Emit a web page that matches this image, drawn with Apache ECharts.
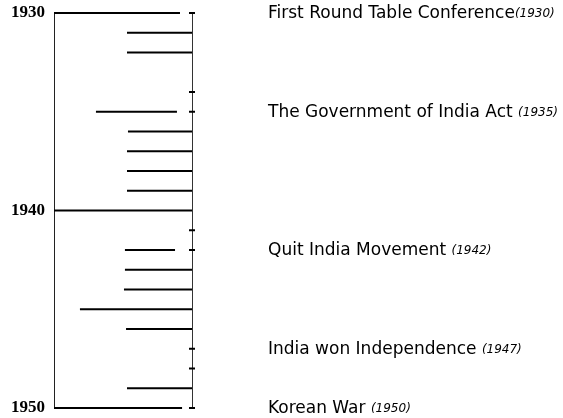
<!DOCTYPE html>
<html><head><meta charset="utf-8">
<script src="https://cdn.jsdelivr.net/npm/echarts@6/dist/echarts.min.js"></script>
<style>html,body{margin:0;padding:0;background:#fff}#c{width:563px;height:418px}</style>
</head><body><div id="c"></div>
<script>
// Axis tick labels (years)
const yearTicks = [1930, 1940, 1950];
// Horizontal timeline bars: year, start, end (0 = left axis, 100 = right axis)
const lineYears  = [1930, 1931, 1932, 1935, 1936, 1937, 1938, 1939, 1940, 1942, 1943, 1944, 1945, 1946, 1949, 1950];
const lineStarts = [0, 52.9, 52.9, 30.4, 53.6, 52.9, 52.9, 52.9, 0, 51.4, 51.4, 50.7, 18.8, 52.2, 52.9, 0];
const lineEnds   = [91.3, 100, 100, 89.1, 100, 100, 100, 100, 100, 87.7, 100, 100, 100, 100, 100, 92.8];
// Small tick marks on the right axis
const tickYears = [1930, 1934, 1935, 1941, 1942, 1947, 1948, 1950];
// Events
const eventNames = ['First Round Table Conference', 'The Government of India Act ', 'Quit India Movement ', 'India won Independence ', 'Korean War '];
const eventYears = [1930, 1935, 1942, 1947, 1950];

const chart = echarts.init(document.getElementById('c'), null, {renderer: 'canvas'});

const lineData = lineYears.map((y, i) => [lineStarts[i], lineEnds[i], y]);
const tickData = tickYears.map(y => [100, y]);
const eventData = eventYears.map((y, i) => [100, y, eventNames[i]]);

chart.setOption({
  animation: false,
  backgroundColor: '#fff',
  grid: {left: 54, top: 13, width: 138, height: 395},
  xAxis: {type: 'value', min: 0, max: 100, show: false},
  yAxis: [{
    type: 'value', min: 1930, max: 1950, interval: 10, inverse: true, position: 'left',
    axisLine: {show: true, lineStyle: {color: '#222', width: 1}},
    axisTick: {show: false}, splitLine: {show: false},
    axisLabel: {
      margin: 9, color: '#000', fontFamily: 'Liberation Serif', fontWeight: 'bold', fontSize: 17,
      formatter: v => yearTicks.indexOf(v) >= 0 ? String(v) : ''
    }
  }, {
    type: 'value', min: 1930, max: 1950, inverse: true, position: 'right',
    axisLine: {show: true, lineStyle: {color: '#333', width: 1}},
    axisTick: {show: false}, splitLine: {show: false}, axisLabel: {show: false}
  }],
  series: [{
    type: 'custom', clip: false, data: lineData,
    encode: {x: [0, 1], y: 2},
    renderItem: (params, api) => {
      const p1 = api.coord([api.value(0), api.value(2)]);
      const p2 = api.coord([api.value(1), api.value(2)]);
      return {type: 'line', shape: {x1: p1[0], y1: p1[1], x2: p2[0], y2: p2[1]},
        style: {stroke: '#000', lineWidth: 2}};
    }
  }, {
    type: 'custom', clip: false, data: tickData,
    encode: {x: 0, y: 1},
    renderItem: (params, api) => {
      const p = api.coord([api.value(0), api.value(1)]);
      return {type: 'line', shape: {x1: p[0] - 3, y1: p[1], x2: p[0] + 3, y2: p[1]},
        style: {stroke: '#000', lineWidth: 2}};
    }
  }, {
    type: 'custom', clip: false, data: eventData,
    encode: {x: 0, y: 1},
    renderItem: (params, api) => {
      const p = api.coord([api.value(0), api.value(1)]);
      const name = eventNames[params.dataIndex];
      const yr = eventYears[params.dataIndex];
      return {type: 'text', x: p[0] + 76, y: p[1] + 1,
        style: {
          text: '{a|' + name + '}{b|(' + yr + ')}',
          verticalAlign: 'middle', align: 'left',
          rich: {
            a: {fontFamily: 'DejaVu Sans', fontSize: 17, fill: '#000', color: '#000'},
            b: {fontFamily: 'DejaVu Sans', fontStyle: 'italic', fontSize: 12, fill: '#000', color: '#000'}
          }
        }};
    }
  }]
});
</script>
</body></html>
